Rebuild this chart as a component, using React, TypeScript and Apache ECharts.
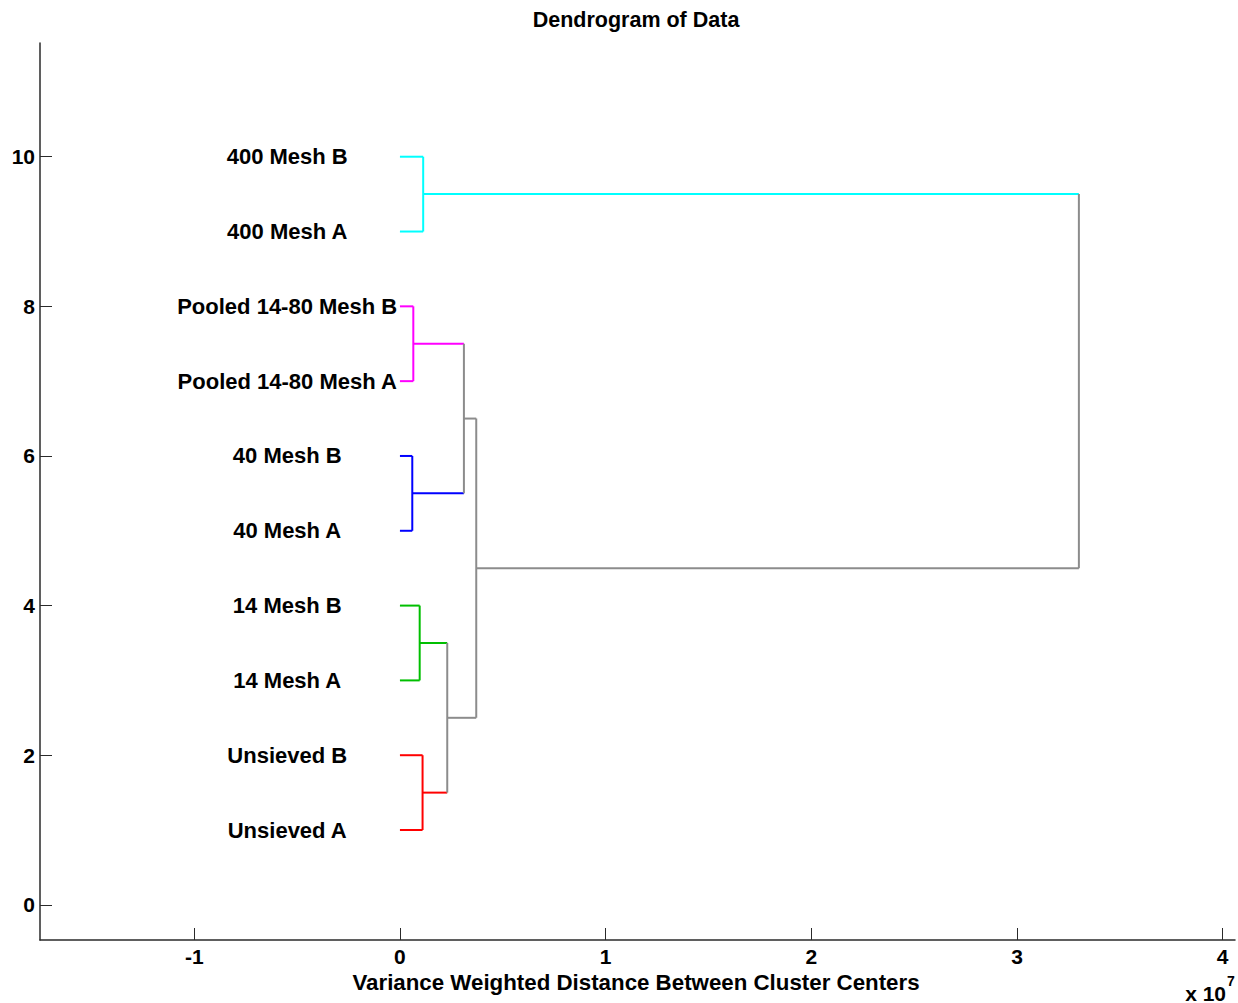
import React, { useEffect, useRef } from "react";
import * as echarts from "echarts";

const leafLabels = [
  "Unsieved A",
  "Unsieved B",
  "14 Mesh A",
  "14 Mesh B",
  "40 Mesh A",
  "40 Mesh B",
  "Pooled 14-80 Mesh A",
  "Pooled 14-80 Mesh B",
  "400 Mesh A",
  "400 Mesh B",
];
// merge nodes (ids 10..18), children refer to leaf ids 0..9 or node ids
const nodeLeft = [0, 2, 4, 6, 8, 10, 12, 15, 17];
const nodeRight = [1, 3, 5, 7, 9, 11, 13, 16, 14];
const nodeHeight = [0.11, 0.096, 0.06, 0.065, 0.113, 0.23, 0.311, 0.371, 3.301];
const nodeColor = ["#ff0000", "#00bf00", "#0000ff", "#ff00ff", "#00ffff", "#8c8c8c", "#8c8c8c", "#8c8c8c", "#8c8c8c"];

const xTicks = [-1, 0, 1, 2, 3, 4];
const yTicks = [0, 2, 4, 6, 8, 10];
const labelX = -0.548;

const FONT = "'Liberation Sans', Arial, Helvetica, sans-serif";

function buildSegments() {
  const n = leafLabels.length;
  const ys: number[] = [];
  const hs: number[] = [];
  const cols: string[] = [];
  for (let i = 0; i < n; i++) {
    ys.push(i + 1);
    hs.push(0);
    cols.push("#000");
  }
  nodeLeft.forEach((l, k) => {
    const r = nodeRight[k];
    ys.push((ys[l] + ys[r]) / 2);
    hs.push(nodeHeight[k]);
    cols.push(nodeColor[k]);
  });
  nodeLeft.forEach((l, k) => {
    const r = nodeRight[k];
    if (l < n) cols[l] = nodeColor[k];
    if (r < n) cols[r] = nodeColor[k];
  });
  const segs: { pts: number[][]; color: string }[] = [];
  nodeLeft.forEach((l, k) => {
    const r = nodeRight[k];
    const id = n + k;
    const h = nodeHeight[k];
    segs.push({ pts: [[hs[l], ys[l]], [h, ys[l]]], color: cols[l] });
    segs.push({ pts: [[hs[r], ys[r]], [h, ys[r]]], color: cols[r] });
    segs.push({ pts: [[h, ys[l]], [h, ys[r]]], color: cols[id] });
  });
  return segs;
}

export default function App() {
  const ref = useRef<HTMLDivElement>(null);
  useEffect(() => {
    if (!ref.current) return;
    const chart = echarts.init(ref.current, null, { renderer: "svg" });
    const segs = buildSegments();
    const series: any[] = segs.map((s) => ({
      type: "line",
      data: s.pts,
      symbol: "none",
      lineStyle: { color: s.color, width: 2 },
      silent: true,
      z: 3,
    }));
    series.push({
      type: "scatter",
      symbolSize: 0,
      itemStyle: { opacity: 1 },
      data: leafLabels.map((name, i) => ({ name, value: [labelX, i + 1] })),
      label: {
        show: true,
        position: "inside",
        formatter: (p: any) => p.name,
        color: "#000",
        opacity: 1,
        textBorderWidth: 0,
        fontFamily: FONT,
        fontWeight: "bold",
        fontSize: 22,
        align: "center",
        verticalAlign: "middle",
      },
      silent: true,
    });
    const axisColor = "#2a2a2a";
    chart.setOption({
      animation: false,
      backgroundColor: "#ffffff",
      grid: { left: 40, right: 3, top: 43, bottom: 63, containLabel: false },
      xAxis: {
        type: "value",
        min: -1.75,
        max: 4.06,
        axisLine: { show: true, onZero: false, lineStyle: { color: axisColor, width: 1.5 } },
        axisTick: { show: true, inside: true, length: 12, customValues: xTicks, lineStyle: { color: axisColor, width: 1 } },
        axisLabel: {
          customValues: xTicks,
          margin: 6,
          color: "#000",
          fontFamily: FONT,
          fontWeight: "bold",
          fontSize: 21,
        },
        splitLine: { show: false },
      },
      yAxis: {
        type: "value",
        min: -0.47,
        max: 11.52,
        axisLine: { show: true, onZero: false, lineStyle: { color: axisColor, width: 1.5 } },
        axisTick: { show: true, inside: true, length: 12, customValues: yTicks, lineStyle: { color: axisColor, width: 1 } },
        axisLabel: {
          customValues: yTicks,
          margin: 5,
          color: "#000",
          fontFamily: FONT,
          fontWeight: "bold",
          fontSize: 21,
        },
        splitLine: { show: false },
      },
      graphic: [
        {
          type: "text",
          x: 636,
          y: 20,
          style: {
            text: "Dendrogram of Data",
            fill: "#000",
            font: `bold 21.5px ${FONT}`,
            textAlign: "center",
            textVerticalAlign: "middle",
          },
        },
        {
          type: "text",
          x: 636,
          y: 982,
          style: {
            text: "Variance Weighted Distance Between Cluster Centers",
            fill: "#000",
            font: `bold 22.3px ${FONT}`,
            textAlign: "center",
            textVerticalAlign: "middle",
          },
        },
        {
          type: "text",
          x: 1226,
          y: 993,
          style: {
            text: "x 10",
            fill: "#000",
            font: `bold 21px ${FONT}`,
            textAlign: "right",
            textVerticalAlign: "middle",
          },
        },
        {
          type: "text",
          x: 1227,
          y: 981,
          style: {
            text: "7",
            fill: "#000",
            font: `bold 14px ${FONT}`,
            textAlign: "left",
            textVerticalAlign: "middle",
          },
        },
      ],
      series,
    });
    return () => chart.dispose();
  }, []);
  return (
    <div
      ref={ref}
      style={{ position: "absolute", left: 0, top: 0, width: 1238, height: 1003 }}
    />
  );
}
